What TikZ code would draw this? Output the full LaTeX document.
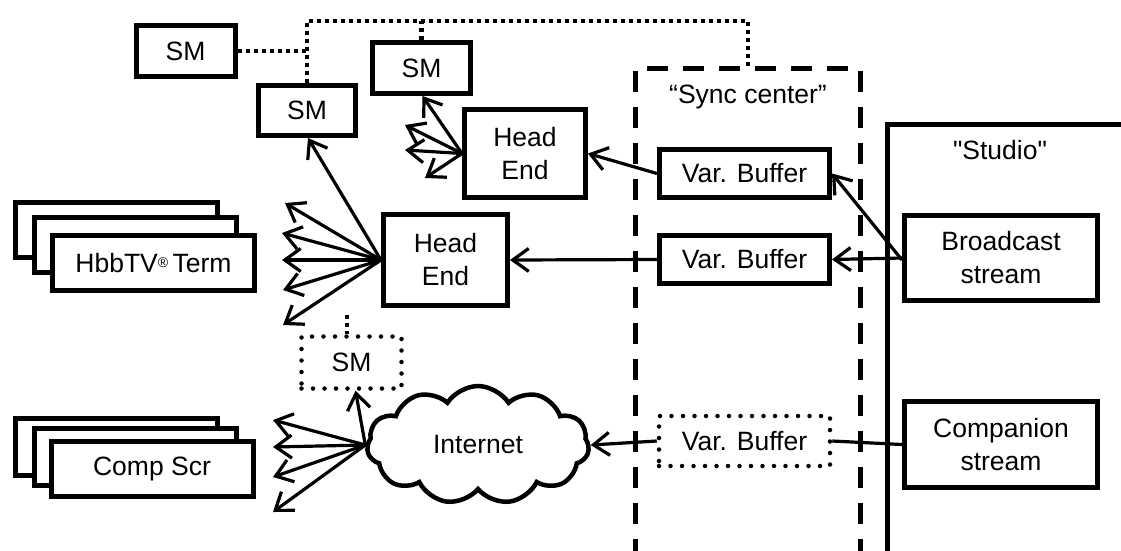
\documentclass[tikz,border=0pt]{standalone}
\usepackage{fontspec}
\setmainfont{Liberation Sans}
\newfontfamily\nomapfont{Liberation Sans}[Ligatures=TeXOff]
\usetikzlibrary{arrows.meta,shapes.symbols}
\begin{document}
\begin{tikzpicture}[x=1pt,y=-1pt,
  every node/.style={font=\fontsize{26.5}{33}\selectfont},
  box/.style={draw, line width=5pt, inner sep=0pt, align=center, fill=white},
  dotbox/.style={draw, line width=4.5pt, line cap=round, dash pattern=on 0pt off 11.5pt, inner sep=0pt, align=center},
  sqdot/.style={line width=4.5pt, dash pattern=on 4pt off 4pt},
  syncline/.style={line width=5pt, dash pattern=on 21pt off 15pt},
  arr/.style={line width=3.2pt, -{Straight Barb[length=16pt,width=23pt]}},
  plain/.style={line width=3.2pt},
  smbox/.style={box, minimum width=99pt, minimum height=51pt},
  vbbox/.style={box, minimum width=170pt, minimum height=48pt},
  stackbox/.style={box, minimum width=202pt, minimum height=55pt},
]
\clip (0,0) rectangle (1121,550);
\fill[white] (0,0) rectangle (1121,550);

% Studio and sync center
\draw[line width=5pt] (887,560) -- (887,124) -- (1130,124);
\node (studiolbl) at (1000,150) {\nomapfont "Studio"};
\draw[syncline] (635,560) -- (635,68) -- (860,68) -- (860,560);
\coordinate (synctop) at (748,68);
\node (synclbl) at (748,97) {“Sync center”};

% SM boxes
\node[smbox] (SM1) at (185.5,51) {SM};
\node[smbox, minimum width=97pt, minimum height=50pt] (SM2) at (307,110.5) {SM};
\node[smbox, minimum width=98pt] (SM3) at (421.5,68) {SM};
\node[dotbox, minimum width=100pt, minimum height=52pt] (SMd) at (351.5,362.5) {SM};

% Head ends
\node[box, minimum width=121pt, minimum height=88pt] (HE1) at (525,153.5) {Head\\End};
\node[box, minimum width=124pt, minimum height=91pt] (HE2) at (445.5,260) {Head\\End};

% Var buffers
\node[vbbox] (VB1) at (744.5,173.5) {Var. Buffer};
\node[vbbox] (VB2) at (744.5,259.5) {Var. Buffer};
\node[dotbox, minimum width=171pt, minimum height=50pt] (VB3) at (744.5,441) {Var. Buffer};

% Streams
\node[box, minimum width=193pt, minimum height=85pt] (BS) at (1001,258) {Broadcast\\stream};
\node[box, minimum width=193pt, minimum height=86pt] (CS) at (1001,444.5) {Companion\\stream};

% Terminals stacks
\node[stackbox] (T1) at (116.5,230) {};
\node[stackbox] (T2) at (135,244.5) {};
\node[stackbox] (T3) at (153.5,263) {HbbTV{\fontsize{14}{14}\selectfont\raisebox{5pt}{®}}\,Term};
\node[stackbox, minimum height=57pt] (C1) at (116.5,447) {};
\node[stackbox, minimum height=57pt] (C2) at (135,457) {};
\node[stackbox, minimum height=55pt] (C3) at (152,469) {Comp Scr};

% Cloud
\node[cloud, draw, line width=4.5pt, cloud puffs=11, cloud puff arc=115, aspect=1.9,
      minimum width=222pt, minimum height=118pt, inner sep=0pt] (net) at (478,445) {Internet};

% Dotted sync links
\coordinate (topL) at (307,21);
\coordinate (topR) at (748,21);
\draw[sqdot] (SM2.north) -- (topL) -- (topR) -- (synctop);
\draw[sqdot] (SM1.east) -- (SM1.east -| SM2.north);
\draw[sqdot] (SM3.north) -- (SM3.north |- topL);
\coordinate (stub) at (347,315);
\draw[sqdot] (stub) -- (stub |- SMd.north);

% Stream arrows
\draw[arr] (BS.west) -- (VB2.east);
\draw[arr] ([yshift=-2pt]BS.west) -- (VB1.east);
\draw[arr] (VB1.west) -- (HE1.east);
\draw[arr] (VB2.west) -- (HE2.east);
\draw[plain] (CS.west) -- (VB3.east);
\draw[arr] (VB3.west) -- (net.east);

% Head end 1 fan
\coordinate (h1a) at (405,125);
\coordinate (h1b) at (405,150);
\coordinate (h1c) at (425,178);
\draw[arr] (HE1.west) -- ([xshift=1pt]SM3.south);
\draw[arr] (HE1.west) -- (h1a);
\draw[arr] (HE1.west) -- (h1b);
\draw[arr] (HE1.west) -- (h1c);

% Head end 2 fan
\coordinate (h2a) at (285,203);
\coordinate (h2b) at (282,233);
\coordinate (h2c) at (282,260);
\coordinate (h2d) at (283,290);
\coordinate (h2e) at (283,325);
\draw[arr] (HE2.west) -- ([xshift=1pt]SM2.south);
\draw[arr] (HE2.west) -- (h2a);
\draw[arr] (HE2.west) -- (h2b);
\draw[arr] (HE2.west) -- (h2c);
\draw[arr] (HE2.west) -- (h2d);
\draw[arr] (HE2.west) -- (h2e);

% Internet fan
\coordinate (n1) at (273,420);
\coordinate (n2) at (273,447);
\coordinate (n3) at (273,477);
\coordinate (n4) at (273,512);
\draw[arr] (net.west) -- ([xshift=4pt]SMd.south);
\draw[arr] (net.west) -- (n1);
\draw[arr] (net.west) -- (n2);
\draw[arr] (net.west) -- (n3);
\draw[arr] (net.west) -- (n4);
\end{tikzpicture}
\end{document}
